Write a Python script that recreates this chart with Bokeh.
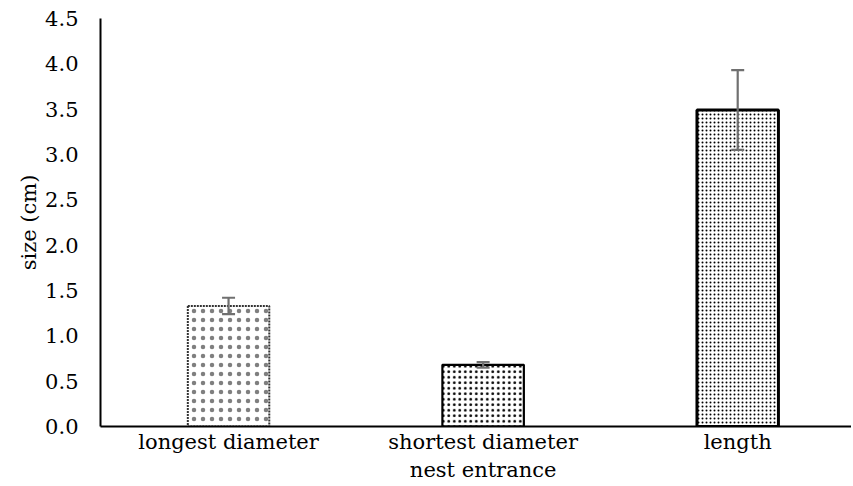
from bokeh.plotting import figure
from bokeh.models import Range1d, FixedTicker, Whisker, ColumnDataSource, TeeHead
from bokeh.embed import file_html
from bokeh.resources import INLINE

categories = ["longest diameter", "shortest diameter\nnest entrance", "length"]
values = [1.33, 0.68, 3.49]
errors = [0.09, 0.03, 0.44]
y_ticks = [0.0, 0.5, 1.0, 1.5, 2.0, 2.5, 3.0, 3.5, 4.0, 4.5]

FONT = "DejaVu Serif"

p = figure(width=851, height=485, output_backend="svg", toolbar_location=None,
           x_range=Range1d(-0.503, 2.447), y_range=Range1d(0, 4.5),
           min_border_left=100, min_border_right=0, min_border_top=18, min_border_bottom=57)
p.outline_line_color = None
p.grid.visible = False
p.background_fill_color = "white"

xs = list(range(len(categories)))
styles = [
    dict(line_color="#333333", line_width=2, line_dash="2 1", hatch_scale=9, hatch_alpha=0.5),
    dict(line_color="black", line_width=2.2, line_dash="solid", hatch_scale=5.5, hatch_alpha=1.0),
    dict(line_color="black", line_width=3, line_dash="solid", hatch_scale=4, hatch_alpha=1.0),
]
for x, v, st in zip(xs, values, styles):
    p.vbar(x=[x], top=[v], bottom=0, width=0.32, fill_color="white",
           hatch_color="black", hatch_pattern="dot", hatch_weight=1, **st)

src = ColumnDataSource(dict(x=xs, upper=[v + e for v, e in zip(values, errors)],
                            lower=[v - e for v, e in zip(values, errors)]))
w = Whisker(source=src, base="x", upper="upper", lower="lower", level="overlay",
            line_color="#707070", line_width=2.2,
            upper_head=TeeHead(size=13, line_color="#707070", line_width=2.2),
            lower_head=TeeHead(size=13, line_color="#707070", line_width=2.2))
p.add_layout(w)

p.xaxis.ticker = FixedTicker(ticks=xs)
p.xaxis.major_label_overrides = {i: c for i, c in enumerate(categories)}
p.yaxis.ticker = FixedTicker(ticks=y_ticks)
p.yaxis.major_label_overrides = {t: f"{t:.1f}" for t in y_ticks}

for ax in (p.xaxis, p.yaxis):
    ax.axis_line_color = "black"
    ax.axis_line_width = 2
    ax.major_tick_line_color = None
    ax.minor_tick_line_color = None
    ax.major_label_text_font = FONT
    ax.major_label_text_font_size = "21px"
    ax.major_label_text_color = "black"

p.xaxis.major_label_standoff = -3
p.yaxis.major_label_standoff = 16
p.yaxis.axis_label = "size (cm)"
p.yaxis.axis_label_text_font = FONT
p.yaxis.axis_label_text_font_size = "21px"
p.yaxis.axis_label_text_font_style = "normal"
p.yaxis.axis_label_text_color = "black"
p.yaxis.axis_label_standoff = 1

open("out.html", "w").write(file_html(p, INLINE))
